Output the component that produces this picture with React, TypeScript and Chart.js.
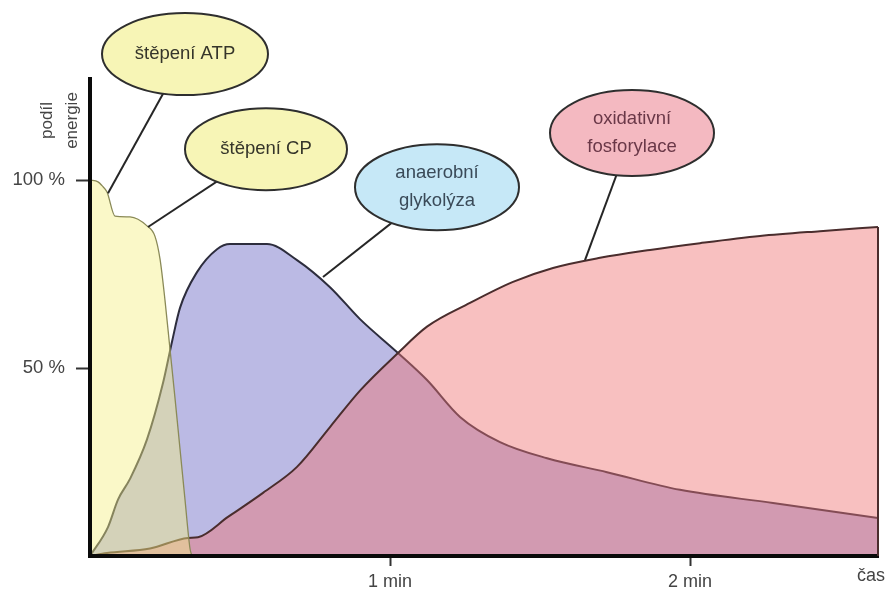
import React, { useEffect, useRef } from 'react';
import { Chart, registerables } from 'chart.js';

Chart.register(...registerables);

// time in seconds, share of energy in %
const phosphagenTime = [0, 1.6, 2.4, 3.4, 5, 8, 11.4, 13, 14, 15, 16, 17, 18, 19, 20, 20.4];
const phosphagenShare = [100, 99.5, 98.5, 96.8, 90.4, 90.2, 87.8, 85, 79, 68, 55, 42, 28.5, 15, 2, 0];

const glycolysisTime = [0, 3.6, 5.6, 8, 11.4, 14.6, 16.4, 18, 21.4, 25.4, 28, 35.4, 41.4, 48, 54, 61.6, 67.4, 74, 82, 91.4, 103.4, 118, 136.6, 157.6];
const glycolysisShare = [0, 7.7, 15, 20.5, 31, 46, 57, 66, 75.5, 81.6, 83, 83, 78.7, 71.5, 63, 54, 46.8, 37, 30.3, 26, 22.3, 17.6, 14.1, 10.1];

const oxidativeTime = [0, 3.4, 12, 19.6, 21.6, 27.6, 34.6, 41.4, 48, 54, 61.6, 67.4, 76, 84.6, 92.6, 102, 112, 122, 134, 146, 157.6];
const oxidativeShare = [0, 0.8, 2, 4.8, 5, 10.4, 16.8, 23.7, 34.3, 44, 54, 61, 67.3, 72.9, 76.6, 79.3, 81.4, 83.2, 85.1, 86.4, 87.5];

const xTickValues = [60, 120];
const yTickValues = [50, 100];
const xAxisTitle = 'čas';
const yAxisTitle = ['podíl', 'energie'];

const calloutLabels = [['štěpení ATP'], ['štěpení CP'], ['anaerobní', 'glykolýza'], ['oxidativní', 'fosforylace']];

const FONT = '"Liberation Sans", Arial, sans-serif';

// callout placement (data coordinates: seconds, %)
const callouts = [
  { lines: calloutLabels[0], cx: 19, cy: 133.5, ax: 3.6, ay: 96.5, rx: 83, ry: 41, fill: '#f7f5b6', text: '#35352a' },
  { lines: calloutLabels[1], cx: 35.2, cy: 108.2, ax: 11.6, ay: 87.5, rx: 81, ry: 41, fill: '#f7f5b6', text: '#35352a' },
  { lines: calloutLabels[2], cx: 69.4, cy: 98.1, ax: 46.6, ay: 74.2, rx: 82, ry: 43, fill: '#c6e8f7', text: '#3a4a58' },
  { lines: calloutLabels[3], cx: 108.4, cy: 112.5, ax: 99, ay: 78.7, rx: 82, ry: 43, fill: '#f4b9c1', text: '#6a3848' },
];

const pts = (xs: number[], ys: number[]) => xs.map((x, i) => ({ x, y: ys[i] }));

const calloutPlugin = {
  id: 'callouts',
  afterDraw(chart: any) {
    const { ctx, scales, chartArea } = chart;
    const xs = scales.x;
    const ys = scales.y;
    ctx.save();
    // right edge of the oxidative area
    const meta = chart.getDatasetMeta(1);
    const last = meta.data[meta.data.length - 1];
    ctx.strokeStyle = '#4a2d2d';
    ctx.lineWidth = 2;
    ctx.beginPath();
    ctx.moveTo(last.x, last.y);
    ctx.lineTo(last.x, chartArea.bottom);
    ctx.stroke();

    // leader lines
    ctx.strokeStyle = '#262626';
    ctx.lineWidth = 2;
    callouts.forEach((c) => {
      ctx.beginPath();
      ctx.moveTo(xs.getPixelForValue(c.ax), ys.getPixelForValue(c.ay));
      ctx.lineTo(xs.getPixelForValue(c.cx), ys.getPixelForValue(c.cy));
      ctx.stroke();
    });
    // ellipses
    callouts.forEach((c) => {
      const px = xs.getPixelForValue(c.cx);
      const py = ys.getPixelForValue(c.cy);
      ctx.beginPath();
      ctx.ellipse(px, py, c.rx, c.ry, 0, 0, Math.PI * 2);
      ctx.fillStyle = c.fill;
      ctx.fill();
      ctx.lineWidth = 2;
      ctx.strokeStyle = '#2e2e2e';
      ctx.stroke();
      ctx.fillStyle = c.text;
      ctx.font = `18.5px ${FONT}`;
      ctx.textAlign = 'center';
      ctx.textBaseline = 'middle';
      const lh = 28;
      const start = py - ((c.lines.length - 1) * lh) / 2;
      c.lines.forEach((l: string, i: number) => ctx.fillText(l, px, start + i * lh));
    });

    // axis titles
    ctx.fillStyle = '#444';
    ctx.font = `18px ${FONT}`;
    ctx.textAlign = 'right';
    ctx.textBaseline = 'middle';
    ctx.fillText(xAxisTitle, chartArea.right + 7, chartArea.bottom + 20);

    ctx.save();
    ctx.font = `17px ${FONT}`;
    ctx.translate(chartArea.left - 30, chartArea.top + 42);
    ctx.rotate(-Math.PI / 2);
    ctx.textAlign = 'center';
    ctx.textBaseline = 'middle';
    yAxisTitle.forEach((l, i) => ctx.fillText(l, 0, -13 + i * 25));
    ctx.restore();

    ctx.restore();
  },
};

export default function App() {
  const ref = useRef<HTMLCanvasElement>(null);
  useEffect(() => {
    const canvas = ref.current!;
    const chart = new Chart(canvas, {
      type: 'line',
      data: {
        datasets: [
          {
            label: 'štěpení ATP a CP',
            data: pts(phosphagenTime, phosphagenShare),
            fill: 'origin',
            backgroundColor: 'rgba(244,240,133,0.45)',
            borderColor: '#8a8a58',
            borderWidth: 1.3,
            pointRadius: 0,
            cubicInterpolationMode: 'monotone',
          },
          {
            label: 'oxidativní fosforylace',
            data: pts(oxidativeTime, oxidativeShare),
            fill: 'origin',
            backgroundColor: 'rgba(240,115,115,0.45)',
            borderColor: '#4a2d2d',
            borderWidth: 2,
            pointRadius: 0,
            cubicInterpolationMode: 'monotone',
          },
          {
            label: 'anaerobní glykolýza',
            data: pts(glycolysisTime, glycolysisShare),
            fill: 'origin',
            backgroundColor: 'rgb(187,186,228)',
            borderColor: '#2d2d3d',
            borderWidth: 2,
            pointRadius: 0,
            cubicInterpolationMode: 'monotone',
          },
        ],
      } as any,
      options: {
        animation: false,
        responsive: false,
        devicePixelRatio: 1,
        layout: { padding: { top: 78.5, right: 8, left: 0, bottom: 0 } },
        plugins: { legend: { display: false }, tooltip: { enabled: false } },
        scales: {
          x: {
            type: 'linear',
            min: 0,
            max: 157.6,
            afterFit: (s: any) => { s.height = 39; },
            afterBuildTicks: (s: any) => { s.ticks = xTickValues.map((v) => ({ value: v })); },
            grid: { drawOnChartArea: false, drawTicks: true, tickLength: 10, tickColor: '#333', tickWidth: 2 },
            border: { display: true, color: '#0a0a0a', width: 4, z: 2 },
            ticks: {
              color: '#444',
              font: { family: FONT, size: 18 },
              padding: 5,
              maxRotation: 0,
              callback: (v: any) => `${Number(v) / 60} min`,
            },
          },
          y: {
            type: 'linear',
            min: 0,
            max: 127,
            afterFit: (s: any) => { s.width = 90; },
            afterBuildTicks: (s: any) => { s.ticks = yTickValues.map((v) => ({ value: v })); },
            grid: { drawOnChartArea: false, drawTicks: true, tickLength: 14, tickColor: '#333', tickWidth: 2 },
            border: { display: true, color: '#0a0a0a', width: 4, z: 2 },
            ticks: {
              color: '#444',
              font: { family: FONT, size: 18.5 },
              padding: 11,
              callback: (v: any) => `${v} %`,
            },
          },
        },
      },
      plugins: [calloutPlugin],
    });
    return () => chart.destroy();
  }, []);
  return (
    <div style={{ position: 'absolute', left: 0, top: 0, width: 886, height: 595, background: '#fff' }}>
      <canvas ref={ref} width={886} height={595} style={{ display: 'block' }} />
    </div>
  );
}
